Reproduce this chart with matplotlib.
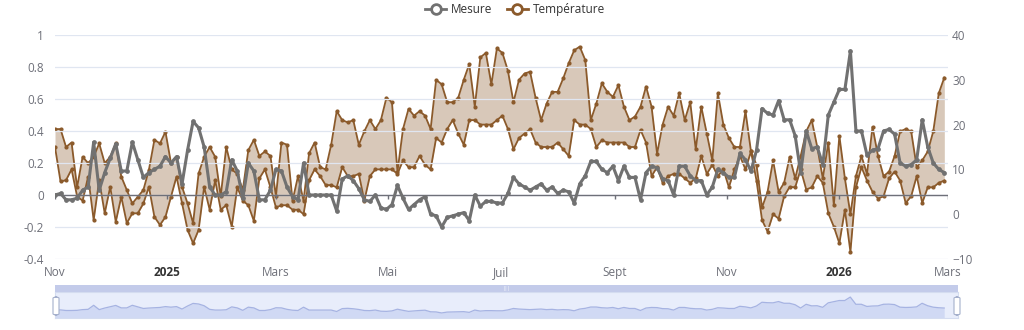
import numpy as np
import pandas as pd
import matplotlib
matplotlib.use("Agg")
import matplotlib.pyplot as plt
from matplotlib.lines import Line2D
from matplotlib.patches import FancyBboxPatch

plt.rcParams['font.family'] = ['Open Sans', 'DejaVu Sans']

# valeurs relevées tous les 3 jours à partir du 1er nov. 2024
temp_max = [
    19, 19, 15, 16, 6, 12.8, 11.4, 12.8, 15.8, 11.4,
    12.8, 15.8, 8.4, 5.4, 2.4, 3.9, 5.4, 9.9, 16.6, 15.8,
    18.4, 11.4, 12.8, 6.1, 2.4, -2, 9.1, 12.8, 15, 12.8,
    4, 15, 10, 9, 5.4, 14.3, 16.6, 13, 14, 13,
    4, 16, 15.5, 3, 8.5, 3, 13.6, 16, 10.5, 10,
    15.5, 23, 21, 20.5, 21, 15.5, 18.5, 21, 19, 21,
    26, 25, 9.5, 19, 23.5, 22, 23, 22, 19, 30,
    29, 25, 25, 26, 30, 33.5, 24, 35, 36, 29,
    37, 36, 32, 25, 30, 31.4, 31.8, 26, 21, 24.7,
    27.3, 27.3, 30.3, 33.7, 36.6, 37.4, 34.4, 21, 24.7, 29.2,
    27.3, 26.2, 28.8, 24, 21, 21.8, 24, 28.5, 24, 13.5,
    20, 24, 22, 27, 21, 25, 14.5, 24, 18, 12,
    27, 20, 17, 15, 15, 23, 14, 11, 1.5, 5,
    12, 5, 7, 12.8, 8, 13, 18.5, 21, 15, 8,
    16, 2, 17.5, 8, 0, 8.5, 13, 9, 19.5, 13,
    8.5, 9.5, 13, 18.5, 19, 18.5, 10.5, 12, 14, 18.5,
    27, 30.5,
]
temp_min = [
    15, 7.3, 7.6, 10, 4, 3, 8.4, -1.3, 7.6, 0.2,
    6.1, -1.7, 3.9, -2, 0.2, 0.2, 2.4, 6.1, -0.6, -2.4,
    -0.6, 3.9, 8.4, 2.4, -3.5, -6.5, -3.5, 6.1, 1, 7.6,
    1, 2, -2.8, 6, 3, 2, -1.5, 8, 10, 6,
    1.5, 2, 2, 1, 1, 0, 7.6, 10, 8.5, 6.5,
    6.5, 6, 10.5, 8.5, 8.5, 9, 3, 8.5, 10, 10,
    10, 10, 9, 12, 10.5, 10.5, 13, 11, 10, 17,
    16, 19, 21, 18, 15.5, 21, 21, 20, 20, 20,
    21, 22, 19, 14.5, 17, 18, 19, 16, 15, 15,
    15, 16, 14.5, 13, 21, 20, 20, 19, 15, 16.5,
    16, 16, 16, 16, 15, 15, 18.8, 16, 8.5, 10.5,
    7, 8.5, 9, 9, 8, 7, 8, 13, 9, 11,
    8.5, 10, 6, 10, 13, 10, 14, 7.5, -1.3, -3.9,
    0, -1, 4, 6.1, 6, 10, 5.5, 6, 8.5, 7,
    0.2, -2.8, -6.5, 1, -8.4, 6, 10.5, 7.5, 5, 3.5,
    4, 8, 9.5, 7.5, 2.5, 4, 8.5, 2.5, 6, 6,
    7, 7.5,
]
mesure = [
    0.0, 0.01, -0.03, -0.03, -0.02, 0.03, 0.05, 0.33, 0.03, 0.14,
    0.23, 0.32, 0.15, 0.15, 0.33, 0.22, 0.11, 0.14, 0.16, 0.18,
    0.24, 0.2, 0.24, 0.07, 0.28, 0.46, 0.42, 0.3, 0.05, 0.0,
    0.0, 0.02, 0.22, 0.15, -0.02, 0.2, 0.15, -0.03, -0.03, 0.03,
    0.16, 0.15, 0.05, -0.01, -0.03, 0.2, 0.0, 0.0, 0.0, 0.0,
    0.0, -0.1, 0.1, 0.12, 0.09, 0.04, -0.03, -0.04, 0.0, -0.08,
    -0.09, -0.06, 0.06, -0.02, -0.09, -0.06, -0.03, -0.01, -0.12, -0.13,
    -0.2, -0.14, -0.13, -0.12, -0.11, -0.16, 0.0, -0.07, -0.04, -0.04,
    -0.05, -0.05, 0.01, 0.11, 0.07, 0.05, 0.03, 0.05, 0.07, 0.03,
    0.05, 0.01, 0.03, 0.02, -0.05, 0.07, 0.12, 0.21, 0.21, 0.16,
    0.14, 0.18, 0.09, 0.18, 0.11, 0.11, -0.03, 0.14, 0.18, 0.17,
    0.1, 0.09, 0.0, 0.18, 0.18, 0.12, 0.09, 0.09, 0.0, 0.05,
    0.16, 0.14, 0.11, 0.11, 0.26, 0.22, 0.15, 0.28, 0.54, 0.51,
    0.5, 0.59, 0.47, 0.47, 0.37, 0.14, 0.4, 0.29, 0.3, 0.19,
    0.5, 0.58, 0.66, 0.66, 0.9, 0.4, 0.4, 0.25, 0.28, 0.29,
    0.4, 0.41, 0.38, 0.2, 0.18, 0.19, 0.22, 0.47, 0.3, 0.2,
    0.16, 0.14,
]
dates = pd.date_range("2024-11-01", periods=len(mesure), freq="3D")

tick_dates = pd.to_datetime(["2024-11-01", "2025-01-01", "2025-03-01", "2025-05-01", "2025-07-01",
                             "2025-09-01", "2025-11-01", "2026-01-01", "2026-03-01"])
tick_labels = ["Nov", "2025", "Mars", "Mai", "Juil", "Sept", "Nov", "2026", "Mars"]

BROWN = "#8b5a2b"
GRAY = "#717171"
LABEL = "#6E7079"
GRID = "#E0E6F1"

fig = plt.figure(figsize=(10.24, 3.3), dpi=100)
ax = fig.add_axes([55 / 1024, 1 - 259 / 330, 893 / 1024, 224 / 330])
ax_t = ax.twinx()

# température (bande entre deux courbes)
ax_t.fill_between(dates, temp_min, temp_max, color=BROWN, alpha=0.33, lw=0)
ax_t.plot(dates, temp_max, color=BROWN, lw=1.3, marker="o", ms=2.0)
ax_t.plot(dates, temp_min, color=BROWN, lw=1.3, marker="o", ms=2.0)
ax_t.set_ylim(-10, 40)
ax_t.set_yticks(range(-10, 41, 10))

# mesure au-dessus
ax.set_zorder(ax_t.get_zorder() + 1)
ax.patch.set_visible(False)
ax.plot(dates, mesure, color=GRAY, lw=2.2, marker="o", ms=2.4, zorder=4)
ax.set_ylim(-0.4, 1)
yt = np.round(np.arange(-0.4, 1.01, 0.2), 1)
ax.set_yticks(yt)
ax.set_yticklabels(["0" if v == 0 else ("1" if v == 1 else f"{v:g}") for v in yt])
ax.grid(axis="y", color=GRID, lw=0.9)
ax.axhline(0, color=LABEL, lw=1, zorder=2)
ax.vlines(tick_dates, -0.028, 0, color=LABEL, lw=1, zorder=2)

ax.set_xlim(pd.Timestamp("2024-11-01"), pd.Timestamp("2026-03-01"))
ax.set_xticks(tick_dates)
ax.set_xticklabels(tick_labels)
for t in ax.get_xticklabels():
    if t.get_text() in ("2025", "2026"):
        t.set_fontweight("bold")
        t.set_color("#333333")
    else:
        t.set_color(LABEL)

for a in (ax, ax_t):
    for s in a.spines.values():
        s.set_visible(False)
ax.tick_params(axis="x", length=0, pad=5, labelsize=8.5)
ax.tick_params(axis="y", length=0, pad=8, labelsize=8.5, labelcolor=LABEL)
ax_t.tick_params(axis="y", length=0, pad=3, labelsize=8.5, labelcolor=LABEL)

# légende
handles = [Line2D([0], [0], color=GRAY, lw=2, marker="o", ms=7, mfc="white", mew=2),
           Line2D([0], [0], color=BROWN, lw=2, marker="o", ms=7, mfc="white", mew=2)]
fig.legend(handles, ["Mesure", "Température"], loc="center", bbox_to_anchor=(0.503, 0.972),
           ncol=2, frameon=False, fontsize=8.5, handlelength=1.8, columnspacing=1.2,
           handletextpad=0.4, labelcolor="#333333")

# curseur de zoom (aperçu)
x0 = pd.Timestamp("2024-11-01")
ax_s = fig.add_axes([55 / 1024, 1 - 318 / 330, 903 / 1024, 26 / 330])
ax_s.set_facecolor("#e8edfb")
ax_s.fill_between(dates, mesure, -0.55, color="#d0d9f4", lw=0)
ax_s.plot(dates, mesure, color="#a6b3e2", lw=0.9)
ax_s.set_xlim(x0, x0 + pd.Timedelta(days=490.5))
ax_s.set_ylim(-0.55, 1.25)
ax_s.set_xticks([])
ax_s.set_yticks([])
for s in ax_s.spines.values():
    s.set_color("#d4dcf0")

ax_b = fig.add_axes([55 / 1024, 1 - 292 / 330, 903 / 1024, 7 / 330])
ax_b.set_facecolor("#c3cbea")
ax_b.set_xticks([])
ax_b.set_yticks([])
for s in ax_b.spines.values():
    s.set_visible(False)
ax_b.text(0.5, 0.5, "|||", ha="center", va="center", fontsize=3.5, color="#ffffff",
          transform=ax_b.transAxes)

for hx in (56, 957):
    fig.patches.append(FancyBboxPatch(((hx - 3) / 1024, 1 - 315 / 330), 6 / 1024, 18 / 330,
                                      boxstyle="round,pad=0,rounding_size=0.004",
                                      transform=fig.transFigure, facecolor="white",
                                      edgecolor="#a5b0cc", lw=0.8, zorder=10))

fig.savefig("out.png", dpi=100)
